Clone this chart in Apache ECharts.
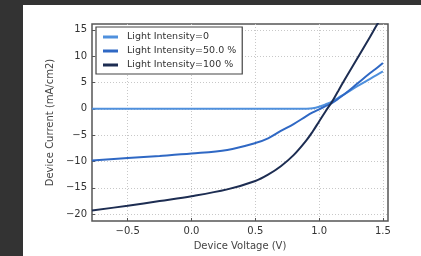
<!DOCTYPE html>
<html>
<head>
<meta charset="utf-8">
<script src="https://cdn.jsdelivr.net/npm/echarts@6/dist/echarts.min.js"></script>
<style>
  html, body { margin: 0; padding: 0; background: #333; }
  #wrap { position: relative; width: 421px; height: 256px; background: #333; }
  #paper { position: absolute; left: 23px; top: 5px; right: 0; bottom: 0; background: #fff; }
  #main { position: absolute; left: 0; top: 0; width: 421px; height: 256px; }
</style>
</head>
<body>
<div id="wrap">
  <div id="paper"></div>
  <div id="main"></div>
</div>
<script>
// voltage samples (V)
var voltage = [-0.78, -0.5, -0.25, 0.0, 0.28, 0.5, 0.6, 0.7, 0.8, 0.9, 0.95, 1.0, 1.05, 1.1, 1.15, 1.2, 1.3, 1.4, 1.45, 1.5];
// current density (mA/cm2) per light intensity
var dark0 = [0, 0, 0, 0, 0, 0, 0, 0, 0, 0.02, 0.1, 0.4, 0.85, 1.35, 2.1, 2.8, 4.3, 5.7, 6.4, 7.1];
var half50 = [-9.8, -9.35, -8.95, -8.5, -7.8, -6.5, -5.6, -4.2, -2.9, -1.4, -0.7, -0.1, 0.5, 1.1, 1.9, 2.8, 4.8, 6.8, 7.7, 8.7];
var full100 = [-19.3, -18.4, -17.5, -16.6, -15.3, -13.7, -12.5, -10.9, -8.8, -6.0, -4.3, -2.4, -0.5, 1.3, 3.4, 5.5, 9.6, 13.7, 15.8, 17.8];
var seriesNames = ['Light Intensity=0', 'Light Intensity=50.0 %', 'Light Intensity=100 %'];
var seriesColors = ['#4f90dd', '#2f68c4', '#1d2d52'];
var xTicks = [-0.5, 0.0, 0.5, 1.0, 1.5];
var yTicks = [-20, -15, -10, -5, 0, 5, 10, 15];

var font = 'DejaVu Sans';
function pairs(ys) {
  var out = [];
  for (var i = 0; i < voltage.length; i++) out.push([voltage[i], ys[i]]);
  return out;
}
function minus(s) { return String(s).replace('-', '\u2212'); }

var chart = echarts.init(document.getElementById('main'));
var allData = [dark0, half50, full100];
var series = [];
for (var i = 0; i < allData.length; i++) {
  series.push({
    name: seriesNames[i],
    type: 'line',
    data: pairs(allData[i]),
    smooth: 0.35,
    symbol: 'none',
    clip: true,
    lineStyle: { color: seriesColors[i], width: 2 },
    itemStyle: { color: seriesColors[i] }
  });
}

var option = {
  animation: false,
  backgroundColor: 'transparent',
  grid: {
    left: 92, right: 33, top: 24, bottom: 34,
    show: true, borderColor: '#555', borderWidth: 1.5, backgroundColor: 'transparent'
  },
  legend: {
    orient: 'vertical',
    left: 96, top: 27,
    padding: [5, 6, 4, 7],
    itemGap: 4,
    itemWidth: 15, itemHeight: 3,
    icon: 'rect',
    backgroundColor: '#fff',
    borderColor: '#444', borderWidth: 1.2,
    textStyle: { fontFamily: font, fontSize: 9.5, color: '#333', padding: [0, 0, 0, 4] },
    data: seriesNames
  },
  xAxis: {
    type: 'value',
    min: -0.78, max: 1.54,
    name: 'Device Voltage (V)',
    nameLocation: 'middle', nameGap: 20,
    nameTextStyle: { fontFamily: font, fontSize: 10, color: '#444' },
    axisLine: { show: false, onZero: false },
    axisTick: { show: true, inside: true, length: 3, customValues: xTicks, lineStyle: { color: '#555' } },
    axisLabel: {
      customValues: xTicks, margin: 5,
      fontFamily: font, fontSize: 10, color: '#333',
      formatter: function (v) { return minus(v.toFixed(1)); }
    },
    splitLine: { show: true, lineStyle: { color: '#c8c8c8', type: [1, 2], width: 1 } }
  },
  yAxis: {
    type: 'value',
    min: -21.3, max: 16.1,
    name: 'Device Current (mA/cm2)',
    nameLocation: 'middle', nameGap: 30,
    nameTextStyle: { fontFamily: font, fontSize: 10, color: '#444' },
    axisLine: { show: false, onZero: false },
    axisTick: { show: true, inside: true, length: 3, customValues: yTicks, lineStyle: { color: '#555' } },
    axisLabel: {
      customValues: yTicks, margin: 5,
      fontFamily: font, fontSize: 10, color: '#333',
      formatter: function (v) { return minus(v); }
    },
    splitLine: { show: true, lineStyle: { color: '#c8c8c8', type: [1, 2], width: 1 } }
  },
  series: series
};
chart.setOption(option);
</script>
</body>
</html>
